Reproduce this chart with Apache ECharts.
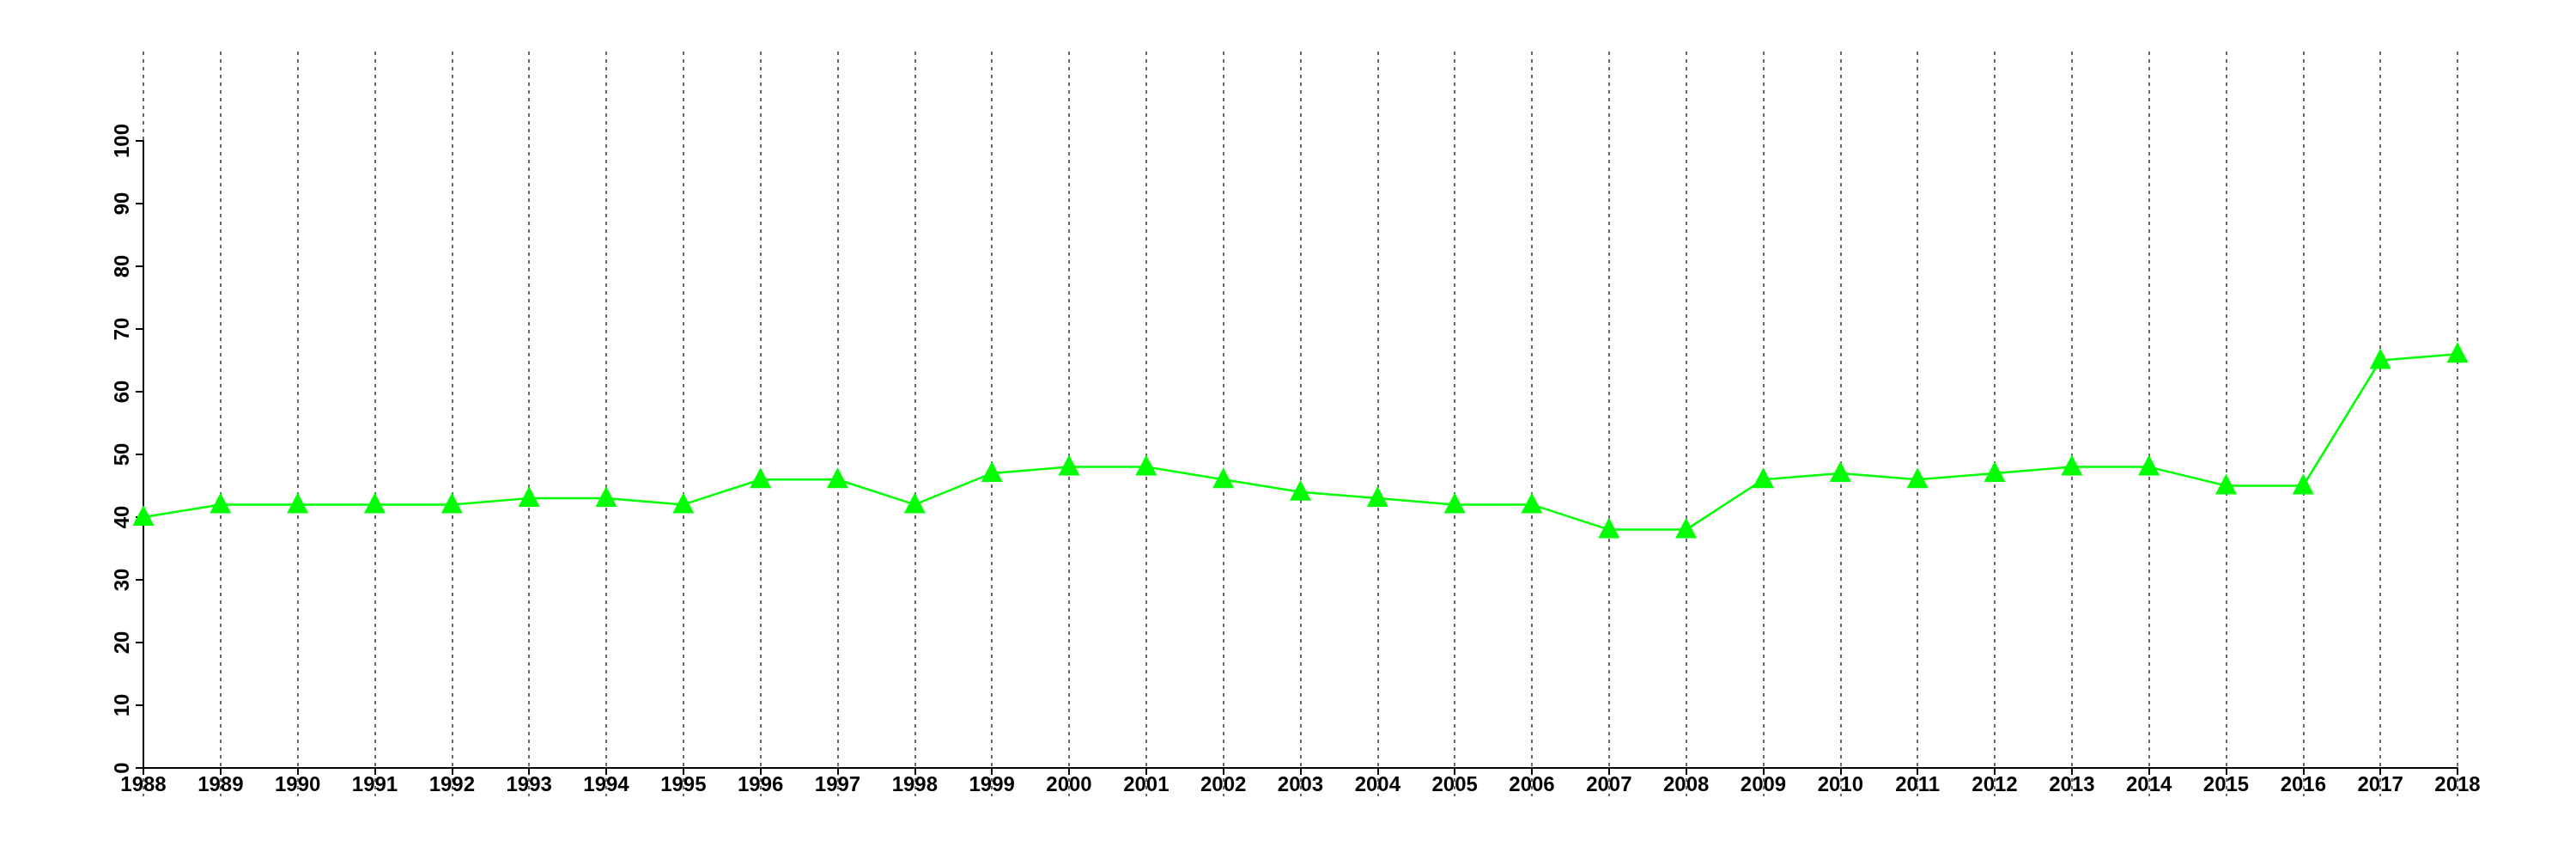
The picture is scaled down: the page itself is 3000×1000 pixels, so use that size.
<!DOCTYPE html>
<html>
<head>
<meta charset="utf-8">
<script src="https://cdn.jsdelivr.net/npm/echarts@6/dist/echarts.min.js"></script>
<style>
html,body{margin:0;padding:0;background:#fff;}
#chart{width:3000px;height:1000px;}
</style>
</head>
<body>
<div id="chart"></div>
<script>
var years = ['1988','1989','1990','1991','1992','1993','1994','1995','1996','1997','1998','1999','2000','2001','2002','2003','2004','2005','2006','2007','2008','2009','2010','2011','2012','2013','2014','2015','2016','2017','2018'];
var values = [40,42,42,42,42,43,43,42,46,46,42,47,48,48,46,44,43,42,42,38,38,46,47,46,47,48,48,45,45,65,66];
var yTicks = {min:0, max:100, interval:10};

var font = '"Liberation Sans", Arial, Helvetica, sans-serif';
var chart = echarts.init(document.getElementById('chart'), null, {renderer:'canvas'});
chart.setOption({
  backgroundColor:'#ffffff',
  animation:false,
  grid:[
    {left:167, right:138, top:164, bottom:106},
    {left:167, right:138, top:60, bottom:73}
  ],
  xAxis:[
    {
      gridIndex:0, type:'category', data:years, boundaryGap:false,
      axisLine:{show:true, lineStyle:{color:'#000', width:2}},
      axisTick:{show:true, inside:false, length:8, alignWithLabel:true, lineStyle:{color:'#000', width:2}},
      axisLabel:{show:true, interval:0, margin:8, color:'#000', fontFamily:font, fontWeight:'bold', fontSize:24},
      splitLine:{show:false}
    },
    {
      gridIndex:1, type:'category', data:years, boundaryGap:false,
      axisLine:{show:false}, axisTick:{show:false}, axisLabel:{show:false},
      splitLine:{show:true, interval:0, lineStyle:{color:'#6a6a6a', width:2, type:[4,5]}}
    }
  ],
  yAxis:[
    {
      gridIndex:0, type:'value', min:yTicks.min, max:yTicks.max, interval:yTicks.interval,
      axisLine:{show:true, lineStyle:{color:'#000', width:2}},
      axisTick:{show:true, inside:false, length:9, lineStyle:{color:'#000', width:2}},
      axisLabel:{show:true, rotate:90, margin:12, color:'#000', fontFamily:font, fontWeight:'bold', fontSize:24},
      splitLine:{show:false}
    },
    {gridIndex:1, type:'value', show:false, splitLine:{show:false}}
  ],
  series:[
    {
      type:'line', xAxisIndex:0, yAxisIndex:0, data:values,
      clip:false, z:5,
      lineStyle:{color:'#00ff00', width:2.5},
      itemStyle:{color:'#00ff00'},
      symbol:'triangle', symbolSize:[25,24], symbolOffset:[0,-2], showAllSymbol:true
    }
  ]
});
</script>
</body>
</html>
